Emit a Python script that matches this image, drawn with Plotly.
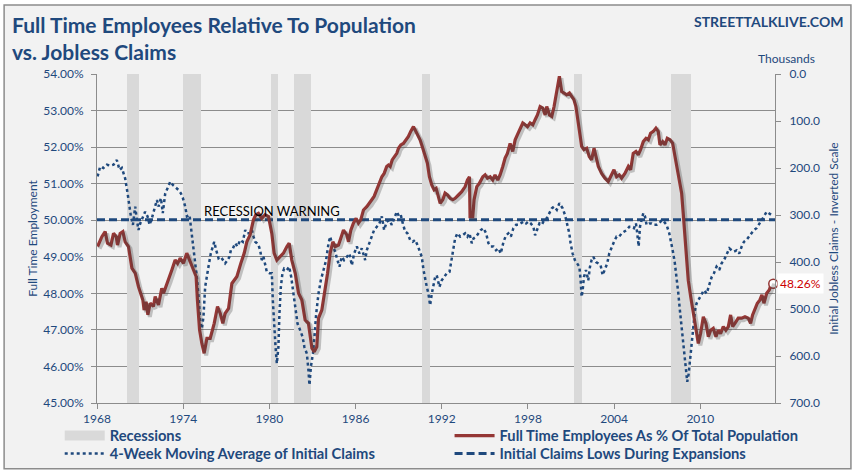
import plotly.graph_objects as go

# ---------------- data ----------------
FT_YEARS = [1968.04, 1968.34, 1968.57, 1968.73, 1968.97, 1969.15, 1969.34, 1969.43, 1969.61, 1969.80,
            1969.96, 1970.19, 1970.43, 1970.66, 1970.89, 1971.19, 1971.28, 1971.42, 1971.54, 1971.70,
            1971.93, 1972.05, 1972.28, 1972.51, 1972.63, 1972.98, 1973.21, 1973.44, 1973.61, 1973.79,
            1974.02, 1974.25, 1974.49, 1974.72, 1974.90, 1974.99, 1975.14, 1975.30, 1975.46, 1975.65,
            1975.88, 1976.16, 1976.39, 1976.58, 1976.76, 1976.92, 1977.16, 1977.39, 1977.55, 1977.74,
            1978.01, 1978.25, 1978.43, 1978.66, 1978.89, 1979.06, 1979.24, 1979.47, 1979.70, 1979.94,
            1980.17, 1980.33, 1980.52, 1980.75, 1980.98, 1981.22, 1981.38, 1981.56, 1981.80, 1982.03,
            1982.26, 1982.49, 1982.72, 1982.96, 1983.12, 1983.30, 1983.42, 1983.65, 1983.88, 1984.05,
            1984.23, 1984.42, 1984.58, 1984.81, 1984.93, 1985.16, 1985.39, 1985.51, 1985.67, 1985.85,
            1986.04, 1986.20, 1986.36, 1986.55, 1986.78, 1986.97, 1987.13, 1987.29, 1987.43, 1987.59,
            1987.71, 1987.83, 1987.99, 1988.17, 1988.29, 1988.41, 1988.55, 1988.68, 1988.87, 1988.99,
            1989.15, 1989.33, 1989.52, 1989.68, 1989.84, 1990.03, 1990.15, 1990.31, 1990.49, 1990.68,
            1990.84, 1991.00, 1991.14, 1991.31, 1991.47, 1991.61, 1991.70, 1991.89, 1992.07, 1992.23,
            1992.40, 1992.58, 1992.77, 1992.93, 1993.16, 1993.39, 1993.63, 1993.79, 1993.93, 1993.97,
            1994.16, 1994.25, 1994.44, 1994.62, 1994.86, 1995.02, 1995.18, 1995.37, 1995.55, 1995.71,
            1995.90, 1996.06, 1996.25, 1996.41, 1996.57, 1996.76, 1996.94, 1997.11, 1997.27, 1997.46,
            1997.64, 1997.80, 1997.97, 1998.15, 1998.34, 1998.50, 1998.66, 1998.85, 1999.03, 1999.20,
            1999.31, 1999.50, 1999.66, 1999.82, 2000.01, 2000.19, 2000.35, 2000.52, 2000.70, 2000.89,
            2001.05, 2001.20, 2001.34, 2001.44, 2001.58, 2001.74, 2001.90, 2002.09, 2002.27, 2002.43,
            2002.60, 2002.74, 2002.90, 2003.13, 2003.36, 2003.59, 2003.83, 2003.99, 2004.17, 2004.36,
            2004.52, 2004.75, 2004.99, 2005.15, 2005.33, 2005.52, 2005.68, 2005.84, 2006.03, 2006.22,
            2006.38, 2006.54, 2006.73, 2006.91, 2007.07, 2007.19, 2007.38, 2007.54, 2007.70, 2007.89,
            2008.07, 2008.23, 2008.40, 2008.58, 2008.70, 2008.81, 2008.93, 2009.05, 2009.16, 2009.33,
            2009.51, 2009.70, 2009.86, 2010.02, 2010.21, 2010.39, 2010.56, 2010.72, 2010.90, 2011.09,
            2011.25, 2011.41, 2011.60, 2011.78, 2011.95, 2012.11, 2012.25, 2012.41, 2012.64, 2012.88,
            2013.11, 2013.34, 2013.50, 2013.64, 2013.80, 2013.97, 2014.15, 2014.29, 2014.43, 2014.62,
            2014.80, 2014.96, 2015.08]
FT_PCT = [49.28, 49.55, 49.69, 49.37, 49.32, 49.64, 49.55, 49.32, 49.64, 49.69,
          49.41, 49.28, 48.69, 48.55, 48.18, 47.82, 47.54, 47.77, 47.41, 47.73,
          47.64, 47.91, 47.68, 48.14, 48.00, 48.36, 48.64, 48.91, 48.82, 48.96,
          48.82, 49.10, 48.87, 48.64, 48.46, 47.82, 47.00, 46.63, 46.36, 46.77,
          46.77, 47.18, 47.64, 47.45, 47.18, 47.45, 47.59, 48.27, 48.36, 48.46,
          48.82, 49.10, 49.41, 49.60, 50.01, 50.15, 50.19, 50.05, 50.15, 50.10,
          49.64, 49.10, 48.91, 49.00, 49.10, 49.28, 49.37, 48.91, 48.55, 48.00,
          47.82, 47.27, 47.18, 46.50, 46.40, 46.54, 47.32, 47.54, 48.09, 48.55,
          49.10, 49.41, 49.28, 49.32, 49.46, 49.73, 49.60, 49.41, 49.73, 49.92,
          50.05, 49.92, 50.01, 50.28, 50.37, 50.46, 50.56, 50.65, 50.78, 50.96,
          51.06, 51.19, 51.28, 51.47, 51.51, 51.47, 51.65, 51.74, 51.83, 51.97,
          52.06, 52.10, 52.20, 52.29, 52.43, 52.56, 52.47, 52.34, 52.20, 51.97,
          51.74, 51.56, 51.19, 50.96, 50.83, 50.87, 50.74, 50.46, 50.56, 50.74,
          50.69, 50.60, 50.56, 50.60, 50.69, 50.78, 50.92, 51.10, 51.19, 50.10,
          50.10, 50.56, 50.92, 51.01, 51.19, 51.24, 51.15, 51.19, 51.10, 51.24,
          51.10, 51.24, 51.47, 51.70, 51.83, 52.10, 51.88, 52.20, 52.34, 52.52,
          52.66, 52.61, 52.56, 52.66, 52.61, 52.75, 52.88, 53.11, 53.07, 52.88,
          53.11, 52.88, 52.84, 53.11, 53.52, 53.94, 53.52, 53.48, 53.43, 53.48,
          53.39, 53.30, 53.11, 52.84, 52.47, 52.02, 51.93, 51.97, 51.74, 51.65,
          51.97, 51.74, 51.47, 51.28, 51.15, 51.06, 51.28, 51.38, 51.19, 51.24,
          51.15, 51.28, 51.47, 51.38, 51.83, 51.88, 51.79, 51.93, 52.15, 52.24,
          52.20, 52.38, 52.43, 52.52, 52.43, 52.06, 52.15, 52.06, 52.24, 52.20,
          52.11, 51.74, 51.38, 51.01, 50.74, 50.19, 49.55, 48.91, 48.36, 47.91,
          47.45, 46.90, 46.63, 46.90, 47.36, 47.18, 46.81, 46.99, 47.04, 46.81,
          46.99, 46.90, 47.09, 46.99, 47.09, 47.41, 47.09, 47.18, 47.32, 47.32,
          47.36, 47.32, 47.18, 47.41, 47.59, 47.73, 47.82, 47.96, 47.73, 48.00,
          48.09, 48.27, 48.26]

CLAIMS_YEARS = [1968.04, 1968.22, 1968.45, 1968.69, 1968.92, 1969.15, 1969.38, 1969.57, 1969.73, 1969.96,
                1970.13, 1970.26, 1970.36, 1970.50, 1970.66, 1970.78, 1970.89, 1971.01, 1971.19, 1971.35,
                1971.52, 1971.66, 1971.82, 1972.05, 1972.17, 1972.28, 1972.45, 1972.58, 1972.75, 1972.91,
                1973.10, 1973.28, 1973.44, 1973.68, 1973.84, 1973.98, 1974.14, 1974.26, 1974.44, 1974.60,
                1974.72, 1974.83, 1974.95, 1975.07, 1975.18, 1975.30, 1975.41, 1975.53, 1975.65, 1975.76,
                1975.92, 1976.07, 1976.16, 1976.30, 1976.46, 1976.62, 1976.76, 1976.92, 1977.09, 1977.22,
                1977.32, 1977.46, 1977.62, 1977.78, 1977.97, 1978.15, 1978.32, 1978.43, 1978.62, 1978.78,
                1978.90, 1979.01, 1979.13, 1979.24, 1979.36, 1979.47, 1979.59, 1979.71, 1979.82, 1980.01,
                1980.17, 1980.24, 1980.33, 1980.43, 1980.52, 1980.63, 1980.70, 1980.80, 1980.91, 1981.03,
                1981.22, 1981.38, 1981.52, 1981.68, 1981.84, 1981.96, 1982.14, 1982.31, 1982.44, 1982.61,
                1982.72, 1982.79, 1982.89, 1983.03, 1983.14, 1983.26, 1983.42, 1983.58, 1983.77, 1983.95,
                1984.12, 1984.23, 1984.42, 1984.58, 1984.74, 1984.88, 1985.04, 1985.20, 1985.39, 1985.58,
                1985.74, 1985.90, 1986.09, 1986.27, 1986.43, 1986.55, 1986.67, 1986.78, 1986.97, 1987.13,
                1987.29, 1987.48, 1987.66, 1987.83, 1987.99, 1988.17, 1988.36, 1988.52, 1988.68, 1988.87,
                1989.03, 1989.15, 1989.29, 1989.45, 1989.61, 1989.80, 1989.98, 1990.15, 1990.31, 1990.45,
                1990.61, 1990.73, 1990.84, 1990.96, 1991.07, 1991.19, 1991.31, 1991.42, 1991.54, 1991.65,
                1991.84, 1992.00, 1992.16, 1992.35, 1992.54, 1992.63, 1992.77, 1992.93, 1993.09, 1993.28,
                1993.46, 1993.63, 1993.79, 1993.93, 1994.09, 1994.21, 1994.39, 1994.55, 1994.72, 1994.90,
                1995.09, 1995.25, 1995.41, 1995.60, 1995.78, 1995.95, 1996.11, 1996.30, 1996.48, 1996.64,
                1996.81, 1996.99, 1997.18, 1997.34, 1997.50, 1997.69, 1997.87, 1998.03, 1998.20, 1998.38,
                1998.50, 1998.61, 1998.80, 1998.96, 1999.13, 1999.31, 1999.50, 1999.66, 1999.82, 2000.01,
                2000.19, 2000.42, 2000.58, 2000.74, 2000.88, 2000.97, 2001.11, 2001.27, 2001.44, 2001.58,
                2001.67, 2001.74, 2001.81, 2001.90, 2002.04, 2002.20, 2002.32, 2002.43, 2002.55, 2002.74,
                2002.90, 2003.06, 2003.20, 2003.36, 2003.52, 2003.66, 2003.83, 2003.99, 2004.17, 2004.36,
                2004.52, 2004.68, 2004.87, 2005.06, 2005.22, 2005.38, 2005.52, 2005.61, 2005.71, 2005.80,
                2005.91, 2006.03, 2006.15, 2006.26, 2006.45, 2006.61, 2006.77, 2006.96, 2007.14, 2007.31,
                2007.47, 2007.65, 2007.84, 2008.00, 2008.12, 2008.23, 2008.35, 2008.47, 2008.58, 2008.70,
                2008.81, 2008.93, 2009.00, 2009.09, 2009.19, 2009.28, 2009.39, 2009.51, 2009.63, 2009.74,
                2009.93, 2010.09, 2010.25, 2010.44, 2010.62, 2010.79, 2010.95, 2011.13, 2011.32, 2011.48,
                2011.65, 2011.83, 2012.02, 2012.18, 2012.34, 2012.53, 2012.71, 2012.88, 2013.04, 2013.22,
                2013.41, 2013.57, 2013.73, 2013.92, 2014.10, 2014.27, 2014.43, 2014.62, 2014.80, 2014.96]
CLAIMS_K = [218, 197, 200, 193, 195, 193, 183, 204, 200, 222,
            254, 282, 303, 321, 282, 311, 332, 318, 303, 293,
            303, 321, 307, 282, 268, 282, 264, 296, 254, 243,
            229, 236, 240, 247, 254, 264, 282, 303, 300, 339,
            368, 396, 432, 474, 524, 542, 517, 453, 425, 410,
            382, 364, 357, 375, 392, 389, 396, 403, 396, 389,
            375, 371, 360, 367, 353, 357, 332, 339, 339, 332,
            346, 357, 360, 364, 375, 396, 389, 403, 421, 424,
            424, 481, 538, 581, 616, 581, 510, 453, 424, 414,
            417, 410, 432, 467, 496, 531, 545, 559, 581, 595,
            630, 662, 623, 595, 559, 510, 467, 439, 417, 396,
            360, 346, 367, 378, 396, 410, 389, 396, 389, 382,
            407, 382, 367, 382, 371, 385, 396, 375, 360, 346,
            332, 325, 318, 303, 332, 314, 311, 321, 307, 293,
            303, 300, 318, 335, 339, 353, 357, 353, 364, 375,
            389, 417, 439, 453, 467, 492, 467, 446, 432, 428,
            453, 439, 432, 424, 421, 403, 375, 350, 339, 346,
            343, 339, 346, 339, 360, 350, 346, 339, 332, 328,
            339, 360, 367, 367, 375, 371, 382, 357, 343, 339,
            346, 328, 321, 321, 318, 314, 318, 314, 318, 325,
            343, 332, 318, 321, 311, 307, 296, 286, 282, 289,
            275, 286, 300, 318, 339, 360, 382, 396, 403, 410,
            439, 474, 460, 432, 417, 439, 410, 396, 389, 400,
            403, 407, 428, 417, 403, 382, 367, 357, 346, 346,
            339, 335, 332, 325, 325, 328, 318, 339, 367, 325,
            311, 296, 303, 321, 318, 318, 321, 321, 318, 311,
            314, 321, 339, 360, 382, 403, 432, 467, 503, 538,
            574, 602, 623, 655, 638, 609, 574, 531, 503, 488,
            478, 467, 460, 467, 446, 432, 424, 410, 417, 403,
            396, 382, 371, 375, 378, 375, 382, 367, 357, 353,
            346, 339, 332, 328, 318, 311, 303, 293, 296, 300]

CLAIMS_LOW = 310  # thousands, "Initial Claims Lows During Expansions"

REC_START = [1970.08, 1974.02, 1980.13, 1981.68, 1990.61, 2001.20, 2007.96]
REC_END = [1970.94, 1975.25, 1980.57, 1982.89, 1991.19, 2001.78, 2009.33]

X_TICKS = [1968, 1974, 1980, 1986, 1992, 1998, 2004, 2010]
X_RANGE = [1968.0, 2015.2]
PCT_RANGE = [45, 54]
CLAIMS_RANGE = [700, 0]

NAVY = "#1F497D"
RED = "#953735"
GRID = "#8C8C8C"
FONT = "Lato"

# plot-area geometry (pixels) used for the drop-shadow offset of the red line
PLOT_W, PLOT_H = 678, 329
SHADOW_PX = 2
dx = SHADOW_PX * (X_RANGE[1] - X_RANGE[0]) / PLOT_W
dy = SHADOW_PX * (PCT_RANGE[1] - PCT_RANGE[0]) / PLOT_H

fig = go.Figure()

# recession bands
fig.add_trace(go.Bar(
    x=[(s + e) / 2 for s, e in zip(REC_START, REC_END)],
    width=[e - s for s, e in zip(REC_START, REC_END)],
    y=[PCT_RANGE[1] - PCT_RANGE[0]] * len(REC_START),
    base=PCT_RANGE[0],
    marker=dict(color="#D9D9D9", line=dict(width=0)),
    showlegend=False, hoverinfo="skip", yaxis="y"))

# legend-only swatch for the recession bands
fig.add_trace(go.Scatter(x=[None], y=[None], mode="lines", name="Recessions",
                         line=dict(color="#D9D9D9", width=12), legend="legend"))

fig.add_trace(go.Scatter(x=CLAIMS_YEARS, y=CLAIMS_K, mode="lines", yaxis="y2",
                         name="4-Week Moving Average of Initial Claims",
                         line=dict(color=NAVY, width=2.5, dash="dot"), legend="legend3"))
fig.add_trace(go.Scatter(x=X_RANGE, y=[CLAIMS_LOW, CLAIMS_LOW], mode="lines", yaxis="y2",
                         name="Initial Claims Lows During Expansions",
                         line=dict(color=NAVY, width=3, dash="8px,4px"), legend="legend4"))

# soft drop shadow of the red line (same data on offset overlay axes)
fig.add_trace(go.Scatter(x=FT_YEARS, y=FT_PCT, mode="lines", xaxis="x2", yaxis="y3",
                         line=dict(color="rgba(60,60,60,0.28)", width=4), showlegend=False,
                         hoverinfo="skip"))
fig.add_trace(go.Scatter(x=FT_YEARS, y=FT_PCT, mode="lines", xaxis="x", yaxis="y4",
                         name="Full Time Employees As % Of Total Population",
                         line=dict(color=RED, width=3.2), legend="legend2"))
fig.add_trace(go.Scatter(x=[FT_YEARS[-1]], y=[FT_PCT[-1]], mode="markers", xaxis="x", yaxis="y4",
                         showlegend=False, hoverinfo="skip", cliponaxis=False,
                         marker=dict(size=9, color="white", line=dict(color=RED, width=1.5))))

legend_common = dict(orientation="v", yanchor="middle", xanchor="left", itemwidth=40,
                     bgcolor="rgba(0,0,0,0)", tracegroupgap=0,
                     font=dict(family=FONT, size=14.7, color=NAVY, weight="bold"))
ROW1, ROW2 = -0.1003, -0.1550
COL1, COL2 = -0.055, 0.52

tick_font = dict(family=FONT, size=12, color=NAVY)

fig.update_layout(
    width=860, height=474,
    margin=dict(l=97, r=85, t=74, b=71, autoexpand=False),
    paper_bgcolor="white", plot_bgcolor="#F2F2F2",
    bargap=0,
    xaxis=dict(range=X_RANGE, tickvals=X_TICKS, ticktext=[str(t) for t in X_TICKS],
               showgrid=False, zeroline=False, showline=True, linecolor=GRID, linewidth=1,
               ticks="outside", ticklen=5, tickcolor=GRID, automargin=False,
               tickfont=tick_font),
    xaxis2=dict(range=[X_RANGE[0] - dx, X_RANGE[1] - dx], overlaying="x", visible=False,
                automargin=False),
    yaxis=dict(range=PCT_RANGE, dtick=1, tickformat=".2f", ticksuffix="%",
               showgrid=True, gridcolor=GRID, gridwidth=1, zeroline=False, automargin=False,
               showline=True, linecolor=GRID, ticks="outside", ticklen=5, tickcolor=GRID,
               ticklabelstandoff=5, tickfont=tick_font,
               title=dict(text="Full Time Employment", font=dict(family=FONT, size=12, color=NAVY),
                          standoff=3)),
    yaxis2=dict(range=CLAIMS_RANGE, dtick=100, tickformat=".1f", overlaying="y", side="right",
                showgrid=False, zeroline=False, showline=True, linecolor=GRID, automargin=False,
                ticks="outside", ticklen=5, tickcolor=GRID, ticklabelstandoff=6,
                tickfont=tick_font,
                title=dict(text="Initial Jobless Claims - Inverted Scale",
                           font=dict(family=FONT, size=12, color=NAVY), standoff=10)),
    yaxis3=dict(range=[PCT_RANGE[0] + dy, PCT_RANGE[1] + dy], overlaying="y", visible=False,
                automargin=False),
    yaxis4=dict(range=PCT_RANGE, overlaying="y", visible=False, automargin=False),
    legend=dict(x=COL1, y=ROW1, **legend_common),
    legend2=dict(x=COL2, y=ROW1, **legend_common),
    legend3=dict(x=COL1, y=ROW2, **legend_common),
    legend4=dict(x=COL2, y=ROW2, **legend_common),
    showlegend=True,
)

# frame / background of the card
fig.add_shape(type="rect", xref="paper", yref="paper", x0=-0.137, x1=1.112, y0=-0.2, y1=1.21,
              fillcolor="#F2F2F2", line=dict(color="#8C8C8C", width=1.5), layer="below")

fig.add_annotation(xref="paper", yref="paper", x=-0.1283, y=1.1945, xanchor="left", yanchor="top",
                   text="<b>Full Time Employees Relative To Population<br>vs. Jobless Claims</b>",
                   align="left", showarrow=False,
                   font=dict(family=FONT, size=21, color=NAVY))
fig.add_annotation(xref="paper", yref="paper", x=1.1032, y=1.161, xanchor="right", yanchor="middle",
                   text="<b>STREETTALKLIVE.COM</b>", showarrow=False,
                   font=dict(family=FONT, size=14, color=NAVY))
fig.add_annotation(xref="paper", yref="paper", x=1.017, y=1.046, xanchor="center", yanchor="middle",
                   text="Thousands", showarrow=False,
                   font=dict(family=FONT, size=12, color=NAVY))
fig.add_annotation(x=1975.3, y=49.97, xref="x", yref="y", xanchor="left", yanchor="bottom",
                   text="RECESSION WARNING", showarrow=False,
                   font=dict(family=FONT, size=13, color="black"))
fig.add_annotation(x=FT_YEARS[-1], y=FT_PCT[-1], xref="x", yref="y", xanchor="left", yanchor="middle",
                   xshift=4, text=f"{FT_PCT[-1]:.2f}%", showarrow=False, bgcolor="white",
                   borderpad=2, font=dict(family=FONT, size=12, color="#CC0000"))

fig.write_html("out.html", config={"displayModeBar": False},
               post_script="document.body.style.margin='0px';")
